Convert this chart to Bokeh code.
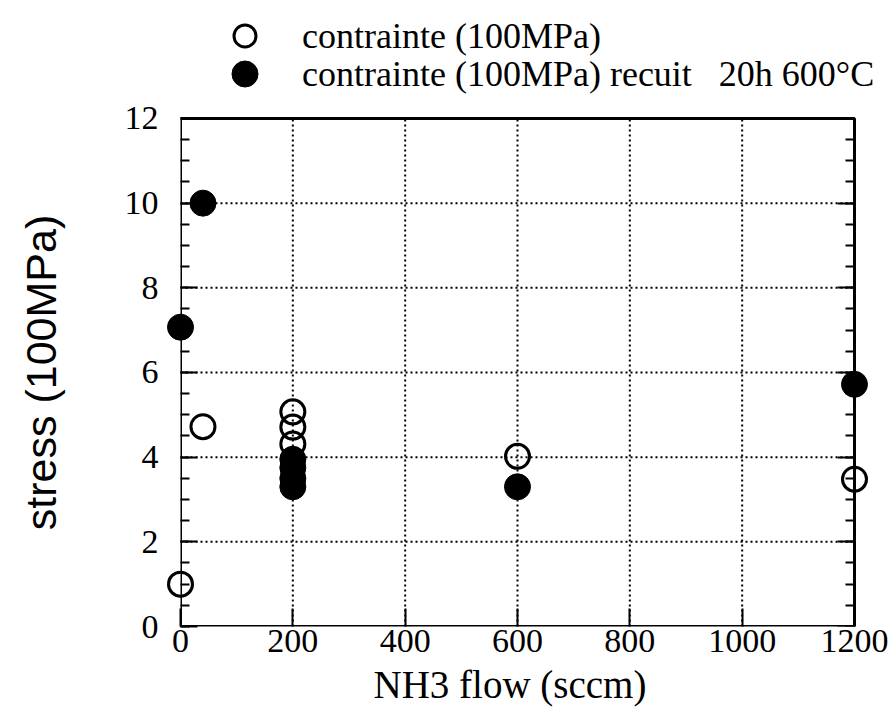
import math
from bokeh.plotting import figure
from bokeh.models import (LinearAxis, FixedTicker, Legend, LegendItem, Range1d,
                          CustomJSTickFormatter, Title, BoxAnnotation)
from bokeh.core.properties import value
from bokeh.embed import file_html
from bokeh.resources import INLINE

# data
x_ticks = [0, 200, 400, 600, 800, 1000, 1200]
y_ticks = [0, 2, 4, 6, 8, 10, 12]
y_minor = [i * 0.5 for i in range(25)]
open_x = [0, 40, 200, 200, 200, 600, 1200]
open_y = [1.0, 4.72, 5.07, 4.71, 4.31, 4.02, 3.48]
filled_x = [0, 40, 200, 200, 200, 200, 600, 1200]
filled_y = [7.07, 10.0, 3.95, 3.75, 3.5, 3.3, 3.3, 5.72]
label_open = "contrainte (100MPa)"
label_filled = "contrainte (100MPa) recuit   20h 600°C"
x_label = "NH3 flow (sccm)"
y_label = "stress (100MPa)"

SERIF = "Liberation Serif"
SANS = "Liberation Sans"

X0, X1 = x_ticks[0], x_ticks[-1]
Y0, Y1 = y_ticks[0], y_ticks[-1]

# The frame also holds the legend strip (above y=12) and reaches the right edge;
# the plot box itself is a box annotation on 0..1200 x 0..12.
p = figure(width=895, height=720, output_backend="svg", toolbar_location=None,
           x_range=Range1d(X0, 1273), y_range=Range1d(Y0, 14.787),
           min_border_left=180, min_border_right=0, min_border_top=0,
           min_border_bottom=94)
p.outline_line_color = None
p.xgrid.visible = False
p.ygrid.visible = False

for ax in p.xaxis:
    ax.ticker = FixedTicker(ticks=x_ticks)
    ax.bounds = (X0, X1)
    ax.axis_line_color = None
    ax.major_tick_in = 18
    ax.major_tick_out = 0
    ax.major_tick_line_width = 2
    ax.minor_tick_line_color = None
    ax.major_label_text_font = SERIF
    ax.major_label_text_font_size = "34px"
    ax.major_label_text_color = "black"
    ax.major_label_standoff = 3

for ax in p.yaxis:
    ax.ticker = FixedTicker(ticks=y_ticks, minor_ticks=y_minor)
    ax.bounds = (Y0, Y1)
    ax.axis_line_color = None
    ax.major_tick_in = 17
    ax.major_tick_out = 0
    ax.major_tick_line_width = 2
    ax.minor_tick_in = 9
    ax.minor_tick_out = 0
    ax.minor_tick_line_width = 2
    ax.minor_tick_line_color = "black"
    ax.major_label_text_font = SERIF
    ax.major_label_text_font_size = "34px"
    ax.major_label_text_color = "black"
    ax.major_label_standoff = 22

right = LinearAxis(ticker=FixedTicker(ticks=y_ticks, minor_ticks=y_minor),
                   formatter=CustomJSTickFormatter(code="return ''"),
                   fixed_location=X1, bounds=(Y0, Y1))
right.axis_line_color = None
right.major_tick_in = 17
right.major_tick_out = 0
right.major_tick_line_width = 2
right.minor_tick_in = 9
right.minor_tick_out = 0
right.minor_tick_line_width = 2
right.major_label_standoff = 0
p.add_layout(right, "right")

xtitle = Title(text=x_label, align="left", offset=193, standoff=12,
               text_font=SERIF, text_font_size="39px", text_font_style="normal",
               text_color="black")
p.add_layout(xtitle, "below")

# y-axis title, left of the tick labels, centred on the axis
YLAB_X = -249
YLAB_Y = (Y0 + Y1) / 2
p.text(x=[YLAB_X], y=[YLAB_Y], text=[y_label], angle=math.pi / 2,
       text_align="center", text_baseline="middle", text_font=value(SANS),
       text_font_size="43px", text_color="black", level="overlay")

# dotted grid inside the box, from the tick lists
gx = x_ticks[1:-1]
gy = y_ticks[1:-1]
p.segment(x0=gx, x1=gx, y0=[Y0] * len(gx), y1=[Y1] * len(gx),
          line_color="black", line_width=2, line_dash="2 3", level="underlay")
p.segment(x0=[X0] * len(gy), x1=[X1] * len(gy), y0=gy, y1=gy,
          line_color="black", line_width=2, line_dash="2 3", level="underlay")

# plot box
p.add_layout(BoxAnnotation(left=X0, right=X1, bottom=Y0, top=Y1, fill_color=None,
                           line_color="black", line_width=3, line_alpha=1.0))

r_open = p.scatter(open_x, open_y, marker="circle", size=24, fill_color=None,
                   line_color="black", line_width=3, level="overlay")
r_filled = p.scatter(filled_x, filled_y, marker="circle", size=26, fill_color="black",
                     line_color="black", line_width=1, level="overlay")

leg_o = Legend(items=[LegendItem(label=label_open, renderers=[r_open])],
               location=(37, 563), glyph_width=55, glyph_height=55, label_height=55,
               label_standoff=30)
leg_f = Legend(items=[LegendItem(label=label_filled, renderers=[r_filled])],
               location=(32, 520), glyph_width=65, glyph_height=65, label_height=65,
               label_standoff=25)
for lg in (leg_o, leg_f):
    lg.padding = 0
    lg.margin = 0
    lg.spacing = 0
    lg.border_line_color = None
    lg.background_fill_alpha = 0
    lg.label_text_font = SERIF
    lg.label_text_font_size = "36px"
    lg.label_text_color = "black"
    p.add_layout(lg)

open("out.html", "w").write(file_html(p, INLINE))
